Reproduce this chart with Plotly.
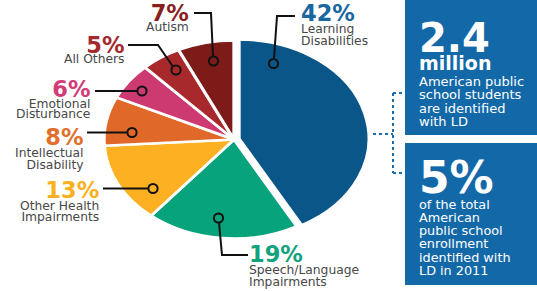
import plotly.graph_objects as go

W, H = 537, 291

# ---------------- data ----------------
categories = ["Learning Disabilities", "Speech/Language Impairments", "Other Health Impairments",
              "Intellectual Disability", "Emotional Disturbance", "All Others", "Autism"]
percent_values = [42, 19, 13, 8, 6, 5, 7]
label_lines = [["Learning", "Disabilities"], ["Speech/Language", "Impairments"],
               ["Other Health", "Impairments"], ["Intellectual", "Disability"],
               ["Emotional", "Disturbance"], ["All Others"], ["Autism"]]

stat1_value = "2.4"
stat1_unit = "million"
stat1_lines = ["American public", "school students", "are identified", "with LD"]
stat2_value = "5%"
stat2_lines = ["of the total", "American", "public school", "enrollment", "identified with", "LD in 2011"]

# ---------------- styles ----------------
slice_colors = ["#0b5689", "#06a37c", "#fdb022", "#e0692a", "#cc3a71", "#a8292b", "#7d1b18"]
pct_colors = ["#1a67a0", "#12a37c", "#fbb01e", "#e2702d", "#d23c78", "#a42a2d", "#8b1e1e"]
box_color = "#1369a8"
label_color = "#484848"
FONT = "DejaVu Sans"
ASC = 0.928          # font ascent (em)
PAD = 2              # annotation borderwidth + borderpad
PCT_SIZE = 22.5
LBL_SIZE = 12.3

# pie geometry (pixels)
CX, CY = 234, 139.5
RY = 99
RX = 130
PULL = 0.04
half = RY * (1 + PULL)

# label layout per category: (align, x, pct_baseline, line_step, leader path pts, circle center)
label_layout = [
    ("left", 299, 21, 12, [(274, 58.5), (277, 16), (295, 16)], (273.5, 63.5)),
    ("left", 247, 262, 12, [(219, 222.5), (222, 255), (248, 255)], (218.5, 218)),
    ("right", 101, 198, 11.5, [(103, 188.5), (148.5, 188.5)], (153, 188.5)),
    ("right", 86, 145, 12, [(87, 132.5), (127.5, 132.5)], (132, 132.5)),
    ("right", 92, 97, 10.5, [(95, 91), (137.5, 91)], (142, 91)),
    ("right", 126, 53, 10, [(128, 45), (158, 45), (172.5, 66)], (176, 70)),
    ("right", 191, 21, 9.5, [(194, 13), (211, 13), (213, 56.5)], (213.5, 61)),
]


def px(x):
    return x / W


def py(y):
    return 1 - y / H


def span(text, size, color=None, bold=False):
    style = f"font-size:{size}px"
    if color:
        style += f";color:{color}"
    t = f"<b>{text}</b>" if bold else text
    return f'<span style="{style}">{t}</span>'


fig = go.Figure()
fig.add_trace(go.Pie(
    values=percent_values,
    labels=categories,
    sort=False,
    direction="clockwise",
    rotation=0,
    pull=[PULL if i == 0 else 0 for i in range(len(percent_values))],
    marker=dict(colors=slice_colors, line=dict(color="white", width=2.5)),
    textinfo="none",
    hoverinfo="label+percent",
    showlegend=False,
    domain=dict(x=[px(CX - half), px(CX + half)], y=[py(CY + half), py(CY - half)]),
))

shapes = []
annotations = []


def path_str(pts):
    return "M " + " L ".join(f"{px(x):.5f},{py(y):.5f}" for x, y in pts)


def block(x, y_top, align, lines, step, color="white"):
    annotations.append(dict(
        x=px(x), y=py(y_top), xref="paper", yref="paper", xanchor=align, yanchor="top",
        align=align, text="<br>".join(lines), showarrow=False,
        font=dict(family=FONT, size=step / 1.3, color=color)))


for i, (cat, val) in enumerate(zip(categories, percent_values)):
    align, x, base, step, leader, circ = label_layout[i]
    lines = [span(f"{val}%", PCT_SIZE, pct_colors[i], bold=True)]
    lines += [span(ln, LBL_SIZE) for ln in label_lines[i]]
    block(x, base - ASC * PCT_SIZE - PAD, align, lines, step, label_color)
    shapes.append(dict(type="path", xref="paper", yref="paper", path=path_str(leader),
                       line=dict(color="#111111", width=2)))
    r = 4.6
    shapes.append(dict(type="circle", xref="paper", yref="paper",
                       x0=px(circ[0] - r), x1=px(circ[0] + r), y0=py(circ[1] + r), y1=py(circ[1] - r),
                       line=dict(color="#111111", width=2), fillcolor="rgba(0,0,0,0)"))

# stat boxes
for (y0, y1) in [(0, 135), (143, 285)]:
    shapes.append(dict(type="rect", xref="paper", yref="paper", x0=px(405), x1=1.0,
                       y0=py(y1), y1=py(y0), line=dict(width=0), fillcolor=box_color, layer="below"))

# dotted connector
dot = dict(color="#1a6cab", width=2, dash="dot")
for pts in [[(373, 134), (393, 134)], [(393, 93), (393, 173)], [(393, 93), (404, 93)], [(393, 173), (404, 173)]]:
    shapes.append(dict(type="path", xref="paper", yref="paper", path=path_str(pts), line=dot))

TX = 417
# box 1
block(TX, 52 - ASC * 40 - PAD, "left",
      [span(stat1_value, 40, bold=True), span(stat1_unit, 19, bold=True)], 18)
block(TX, 86 - ASC * 13 - PAD, "left", [span(t, 13) for t in stat1_lines], 13.3)
# box 2
block(TX, 193 - ASC * 44 - PAD, "left",
      [span(stat2_value, 44, bold=True), span(stat2_lines[0], 12.8)], 16)
block(TX, 222 - ASC * 12.8 - PAD, "left", [span(t, 12.8) for t in stat2_lines[1:]], 13.2)

fig.update_layout(
    width=W, height=H,
    margin=dict(l=0, r=0, t=0, b=0),
    paper_bgcolor="white", plot_bgcolor="white",
    shapes=shapes, annotations=annotations,
    showlegend=False,
)

SX = RX / RY
post = ("document.body.style.margin='0';"
        "var gd=document.getElementById('{plot_id}');"
        "var pl=gd.querySelector('.pielayer');"
        "if(pl){pl.setAttribute('transform','matrix(" + f"{SX:.4f},0,0,1,{CX * (1 - SX):.3f},0" + ")');}")

fig.write_html("out.html", post_script=post, config={"displayModeBar": False})
